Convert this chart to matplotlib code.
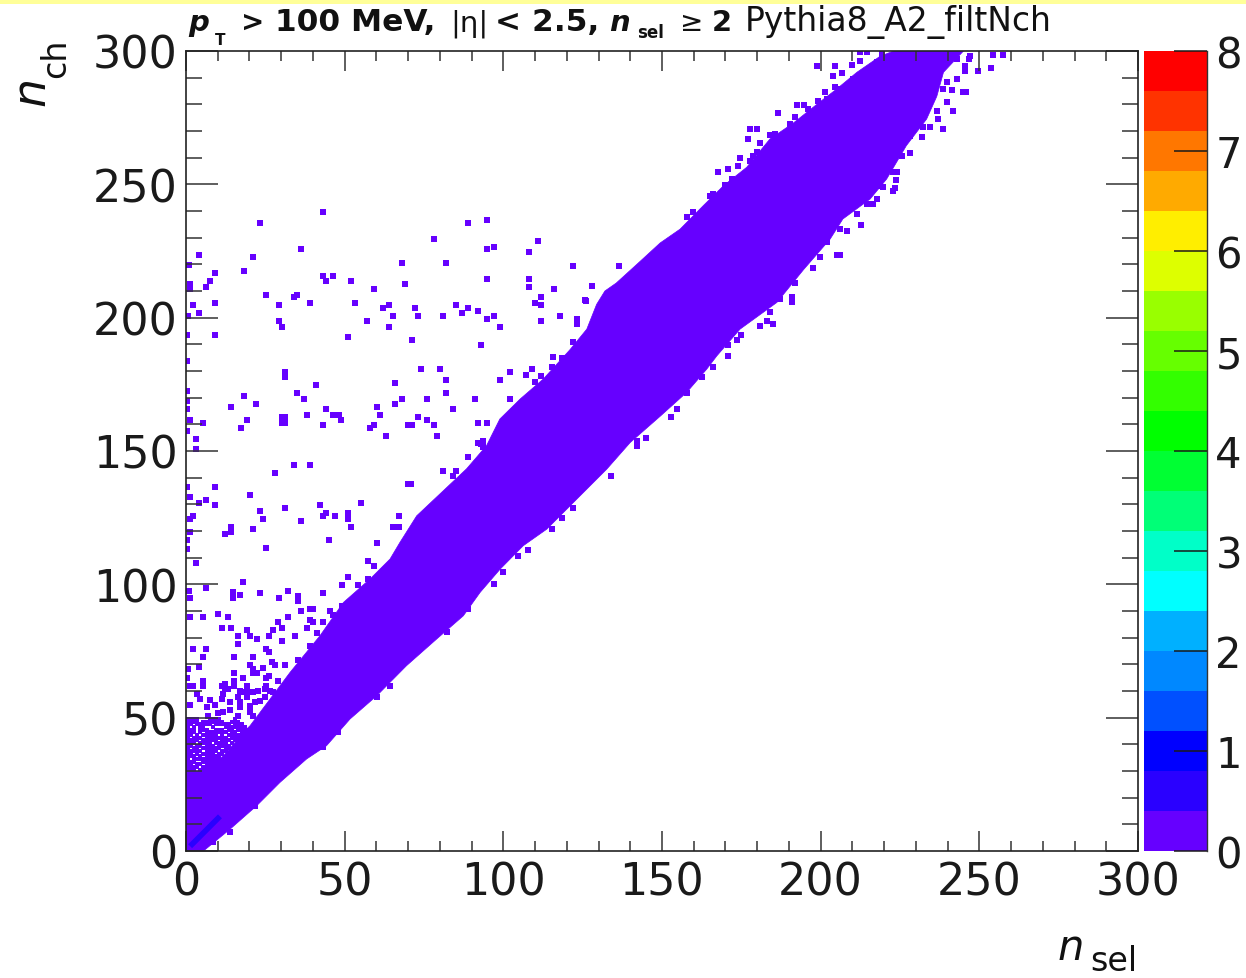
import numpy as np
import matplotlib
matplotlib.use("Agg")
import matplotlib.pyplot as plt
from matplotlib.patches import Rectangle

W, H = 1246, 979
PURPLE = "#6600ff"
FONT = "DejaVu Sans"

# band outline
upper_x = [0, 6, 11.8, 19.1, 20.2, 32.8, 42.2, 49.6, 58, 64.3, 67.4, 72.7, 81, 88.4, 94.7, 98.9, 105.3, 112.6,
           121, 126.3, 129.4, 132, 135.6, 143, 149.4, 155.7, 163, 169.4, 176.7, 184, 191.4, 198.8, 205, 211.4, 218.7, 223]
upper_y = [30, 30, 35.7, 45.7, 47, 67, 80.7, 93.2, 102, 109.5, 115.7, 125.7, 135, 143.3, 152, 162, 169.5, 177,
           188, 195.7, 205, 210, 213, 221, 228, 233.2, 242, 249.5, 256.4, 267, 273, 280, 285.7, 292, 298, 300]
lower_x = [0, 5.5, 13.9, 22.3, 29.6, 38, 44.3, 51.7, 60.1, 69.5, 79, 87.4, 92.7, 99, 106.3, 113.7, 124.2, 132.6,
           140, 149.4, 157.8, 164.1, 167.3, 174.6, 186.2, 194.6, 203, 207, 215.6, 220.8, 227, 233.4, 236.6, 238.7, 245]
lower_y = [0, 0, 8.2, 17, 25.7, 34.5, 39.5, 49.5, 58.2, 69.5, 79.5, 88.2, 97, 105.7, 114.5, 120.7, 133.2, 143.2,
           153.2, 163, 172, 180.7, 185.7, 195.7, 205.7, 218, 229.5, 237, 244.5, 252, 264.5, 274.5, 283, 292, 300]

# the slightly bluer streak close to the origin
streak_x = [1.3, 10.7]
streak_y = [1.8, 13]

# isolated bins, upper left part
stray_x = [43.1, 23.2, 89, 95, 78.2, 111, 36.1, 95, 97.1, 108, 4.2, 21.2, 68.1, 82, 1, 18.2, 9.2, 43.1, 46.2, 44.1,
           52.1, 95, 108, 7.6, 1.3, 69.1, 6.2, 108, 59.1, 116, 1.3, 25.3, 35.1, 34.1, 112, 9.2, 39.1, 53.1, 110, 2.1,
           29.2, 64.1, 85, 112, 62.1, 72.1, 89, 92, 4.2, 87, 65.1, 73, 81.1, 97.1, 118, 0.7, 95, 29.2, 57.1, 112,
           30.2, 64.1, 99, 9.2, 0.4, 51.1, 71.1, 93, 0.4, 74, 80, 31.2, 31.2, 102, 109, 107, 99, 82, 66, 41,
           0.4, 35.1, 82, 18.2, 37.1, 68.1, 76, 91, 102, 0.4, 22.2, 66, 14.2, 60.1, 0.4, 44.1, 84, 38.1, 46.2, 48.1,
           61.1, 30.2, 31.2, 30.2, 31.2, 73, 1.3, 19.2, 49, 76, 5.2, 92, 95, 43.1, 59.1, 70.1, 71.1, 78.2, 58.1, 17.2,
           0.4, 63.1, 79, 3.3, 3.3, 93, 34.1, 39.1, 28.2, 81.1, 85, 84, 70, 71, 0.4, 9.2, 20.2, 1.3, 6.2, 4.2,
           55, 9.2, 42.1, 31.2, 23.2, 44.1, 51.1, 43.1, 47, 51.1, 67.1, 2.3, 24.2, 36.1, 1.3, 14.2, 52.1, 65.1, 67.1, 21.2,
           14.2, 12.2, 1.3, 45.2, 60.1, 25.3, 0.4, 0.4, 127.9, 125.7, 136.3, 122]
stray_y = [239.5, 235.6, 235.6, 236.6, 229.6, 228.6, 225.6, 225.6, 226.6, 224.6, 223.6, 222.6, 220.6, 220.6, 219.6, 217.6, 216.6, 215.6, 215.6, 213.6,
           213.6, 214.6, 214.6, 213.6, 212.6, 212.6, 211.6, 211.6, 210.6, 210.6, 210.6, 208.6, 208.6, 207.6, 207.6, 205.6, 205.6, 205.6, 205.6, 204.6,
           204.6, 204.6, 204.6, 204.6, 203.6, 203.6, 203.6, 202.6, 201.6, 201.6, 200.6, 200.6, 200.6, 200.6, 200.6, 200.6, 199.6, 198.6, 198.6, 198.6,
           196.6, 196.6, 196.6, 193.6, 193.6, 192.6, 191.6, 189.6, 183.6, 180.6, 180.6, 179.6, 177.6, 179.6, 180.6, 178.6, 176.6, 176.6, 175.6, 174.6,
           172.6, 171.6, 171.6, 170.6, 169.6, 169.6, 169.6, 169.6, 169.6, 168.6, 167.6, 167.6, 166.6, 166.6, 165.8, 165.6, 165.6, 163.6, 163.6, 163.6,
           163.6, 162.6, 162.6, 160.6, 160.6, 162.6, 161.6, 161.6, 161.6, 161.6, 160.6, 160.6, 160.6, 159.6, 159.6, 159.6, 159.6, 159.6, 158.6, 158.6,
           157.6, 155.6, 155.6, 154.6, 150.6, 152.6, 144.6, 144.6, 141.6, 142.6, 142.6, 140.6, 137.6, 137.6, 136.6, 136.6, 133.6, 132.6, 131.6, 130.6,
           130.6, 129.6, 129.6, 128.6, 127.6, 126.6, 126.6, 125.6, 125.6, 124.6, 125.6, 125.6, 124.6, 123.6, 124.6, 121.6, 121.6, 121.6, 121.6, 120.6,
           119.8, 118.8, 119.8, 116.6, 115.6, 113.6, 116.6, 113.3, 211.8, 206.6, 219.5, 219.5]

# isolated bins, lower left part
low_x = [3.2, 18.1, 6.2, 1.1, 14.9, 17, 14.9, 23.2, 32.3, 29.3, 35.2, 35.2, 43.1, 49.1, 51.2, 54.3, 57.2, 59.3, 57.5, 1.3,
         1.3, 5.3, 10.2, 13.3, 11.3, 14.2, 19.1, 16.3, 20.2, 22.3, 16.3, 26.3, 27.3, 30.2, 29.1, 32.3, 36.3, 39.1, 40.1, 45.4,
         46.4, 49.1, 39.1, 40.1, 43.1, 38, 34.2, 30.2, 41.2, 2.1, 6.2, 5.3, 25.2, 26.3, 15.2, 21.2, 39.1, 35.2, 27, 28,
         20.2, 21.2, 24.2, 31.2, 4.2, 0.7, 15.2, 21.2, 22.3, 26.3, 25.2, 18.1, 0.4, 15.2, 29.1, 12.3, 11.3, 15.2, 19.1, 25.2,
         1.3, 5.3, 5.3, 21.2, 17.6, 12.3, 1.3, 4.4, 6.5, 7.6, 9.1, 11.2, 13.9, 11.8, 13.3, 17, 16.5, 19.6, 22.8, 17,
         17, 20.2, 21.7, 23.3, 13.9, 10.2, 11.8, 7, 3.4, 2.3, 24.9, 26.5, 27.5, 24.9, 20.2, 21.2, 16.5, 19.1]
low_y = [107.9, 100.7, 98.7, 97.6, 97, 96, 94.9, 96.9, 97.4, 94.9, 95.7, 93.7, 96.9, 99.7, 102.7, 99.7, 108.7, 106.7, 102, 94.9,
         87.9, 87.9, 88.9, 87.9, 83.7, 83.7, 82.9, 80.7, 80.7, 79.5, 77.7, 80.7, 82.9, 83.7, 85.9, 87.9, 89.9, 90.7, 90.7, 89.9,
         88.5, 91.7, 86.7, 85.9, 85.9, 83.7, 80.7, 78.7, 81.7, 75.7, 75.7, 72.7, 75.7, 74.8, 72.7, 72.7, 76.7, 71.7, 70.7, 69.7,
         69.7, 68.2, 68.7, 69.7, 68.9, 68.2, 66.7, 66.7, 66.7, 65.7, 64.7, 64.7, 64.7, 63.7, 63.7, 62.6, 61.7, 61.7, 61.7, 61.7,
         61.7, 63.7, 61.7, 59.7, 59.7, 60.7, 54.9, 57, 53.9, 56.7, 54.9, 57, 55.7, 58.9, 60.7, 60, 57.9, 59.5, 60.1, 55.7,
         53.9, 54.5, 55.7, 56.4, 53, 51.7, 52, 50.8, 58.9, 61.7, 60.7, 60, 59.5, 57.6, 52, 50.8, 50.8, 57.9]

# bins sticking out of the band, upper and lower side
edge_x = [198.8, 204.5, 204, 206.6, 209.8, 212.4, 214.5, 212.4, 219.3, 201.4, 204.5, 192.5, 194.6, 186.7, 192, 177.8, 179.9, 177.2, 180.9, 183.9,
          178.8, 174.6, 177.8, 167.8, 170.9, 174, 169.9, 165, 170.9, 170.9, 173.6, 174.8, 180.9, 183, 184.9, 190.9, 190.9, 197.7, 199.8, 205.1,
          206.1, 212.7, 208.2, 216.6, 217.7, 222.9, 223.5, 223.8, 224, 228.2, 231.9, 238.7, 234.5, 232.4, 237.1, 241.8, 239.7, 245, 245.8, 241.3,
          245.5, 249.7, 253.7, 254.4, 257.6, 246.9, 245.5, 107.9, 104.7, 100, 97.2, 89, 115.2, 118.4, 122, 133.9, 142, 142, 145, 152.8,
          154.8, 158, 162.5, 166.2, 115.8, 118.4, 122, 123.1, 123.1, 126, 112, 115.2, 110, 92, 93.7, 93.7, 89,
          159.9, 157.8, 166.2, 172, 179.9, 185.6, 190.4, 196.1, 199.3, 201.9, 206.1, 210.3, 214.5, 217.7, 222.9,
          184.1, 187.2, 191.9, 201.9, 206.1, 211.4, 214.5, 218.7, 219.8, 222.9, 225.6, 228.2, 229.2, 236.6, 238.7, 239.7, 242.9, 242.9, 247.1,
          82.1, 64.3, 60.1, 48, 43.3, 21.7, 13.9, 8.6]
edge_y = [294.5, 294.5, 290.7, 291.6, 294.7, 299.5, 299.5, 296.4, 298.9, 284.5, 286.4, 279.7, 279.7, 276.6, 275.4, 270.6, 270.6, 267, 265.5, 268.5,
          260.7, 259.7, 258.6, 254.7, 255.7, 256.7, 249.9, 245.7, 185.7, 189.7, 191.6, 193.6, 196.7, 198.6, 197.6, 207.6, 205.7, 218.6, 222.6, 223.6,
          223.6, 234.6, 232.6, 242.6, 244.5, 247.6, 248.6, 251.6, 254.7, 261.6, 267.6, 270.6, 271.6, 271.6, 274.5, 277.6, 280.7, 284.5, 284.7, 285.5,
          292.6, 292.6, 293.6, 298.6, 298.6, 297, 294.5, 112.9, 110.7, 104.7, 100, 90.7, 120.7, 125, 128.5, 140.7, 153.9, 151.9, 154.7, 162.6,
          165.7, 171.6, 177.6, 181.6, 185.1, 184.7, 190.7, 197.6, 199.5, 206.4, 178, 181.4, 175.7, 152.9, 153.6, 151.4, 147.6,
          239.5, 237.6, 246.4, 252, 262, 268.9, 272.6, 278.3, 281.4, 282, 285.8, 289.5, 292.6, 295.8, 298.3,
          202, 207, 213, 228.2, 233.2, 238.9, 242.6, 249.5, 248.9, 254.5, 260.8, 268.2, 270.8, 277.6, 285.8, 288.3, 289.5, 297, 298.3,
          82, 62, 57.6, 44.5, 38.9, 16.7, 7, 3.3]

# speckled corner above the band, one list of bins per row
speckle_rows = [30, 31, 32, 33, 34, 35, 36, 37, 38, 39, 40, 41, 42, 43, 44, 45, 46, 47, 48, 49]
speckle_bins = [
    [0, 1, 2, 4, 5, 6, 7], [0, 1, 2, 3, 5, 6, 7, 8], [0, 1, 3, 4, 6, 7, 8], [0, 1, 2, 5, 6, 7, 8, 9],
    [0, 2, 3, 4, 5, 6, 7, 8, 9, 10], [0, 1, 2, 4, 6, 7, 8, 9, 10], [0, 1, 3, 5, 6, 7, 8, 10, 11],
    [0, 1, 2, 3, 4, 6, 7, 8, 9, 11, 12], [0, 2, 3, 5, 6, 7, 8, 9, 10, 12, 13], [0, 1, 3, 4, 6, 7, 8, 10, 11, 12, 13],
    [0, 1, 2, 4, 5, 6, 7, 9, 10, 11, 12, 14], [0, 1, 2, 3, 5, 6, 7, 8, 9, 11, 12, 13, 15, 17],
    [0, 2, 3, 4, 6, 7, 8, 9, 10, 11, 12, 14, 15, 16, 17], [0, 1, 3, 5, 6, 7, 8, 9, 11, 13, 14, 15, 16, 17, 18],
    [0, 1, 2, 4, 6, 7, 8, 9, 10, 11, 12, 14, 15, 17, 18, 19], [0, 1, 2, 4, 5, 6, 9, 10, 11, 13, 14, 16, 17, 18, 19],
    [0, 2, 4, 5, 8, 12, 13, 14, 15, 16, 17, 18], [0, 1, 3, 4, 5, 6, 7, 9, 10, 11, 12, 13, 15, 16, 17],
    [0, 1, 2, 3, 5, 6, 7, 8, 9, 10, 11, 14, 15, 16], [0, 1, 2, 3, 7, 8, 9, 10, 15],
]

# palette
z_levels = [0, 0.4, 0.8, 1.2, 1.6, 2, 2.4, 2.8, 3.2, 3.6, 4, 4.4, 4.8, 5.2, 5.6, 6, 6.4, 6.8, 7.2, 7.6]
z_colors = ["#6600ff", "#2a00ff", "#0000ff", "#0050ff", "#0088ff", "#00b0ff", "#00ffff", "#00ffc8", "#00ff77", "#00ff33",
            "#00ff00", "#33ff00", "#66ff00", "#99ff00", "#ddff00", "#ffee00", "#ffaa00", "#ff7700", "#ff3300", "#ff0000"]
z_ticks = [0, 1, 2, 3, 4, 5, 6, 7, 8]
xy_ticks = [0, 50, 100, 150, 200, 250, 300]

plt.rcParams["font.family"] = [FONT]

fig = plt.figure(figsize=(W / 100, H / 100), dpi=100)
fig.add_artist(Rectangle((0, 1 - 5 / H), 1, 5 / H, transform=fig.transFigure, color="#ffff99", lw=0))

ax = fig.add_axes([186 / W, (H - 852) / H, 952 / W, 800 / H])
ax.fill(upper_x + lower_x[::-1], upper_y + lower_y[::-1], color=PURPLE, lw=0.5)
ax.plot(streak_x, streak_y, color="#2a00ff", lw=4, solid_capstyle="butt")

sx = [x + 0.5 for row, bins in zip(speckle_rows, speckle_bins) for x in bins]
sy = [row + 0.5 for row, bins in zip(speckle_rows, speckle_bins) for x in bins]
ax.scatter(sx, sy, marker="s", s=8, color=PURPLE, linewidths=0)
ax.scatter(stray_x + low_x + edge_x, stray_y + low_y + edge_y, marker="s", s=13, color=PURPLE, linewidths=0)

ax.set_xlim(0, 300)
ax.set_ylim(0, 300)
ax.set_xticks(xy_ticks)
ax.set_yticks(xy_ticks)
ax.set_xticks(np.arange(0, 301, 10), minor=True)
ax.set_yticks(np.arange(0, 301, 10), minor=True)
ax.tick_params(axis="x", which="major", direction="in", top=True, length=14.4, width=1.1, color="#333333",
               labelsize=32, pad=7, labelcolor="#1a1a1a")
ax.tick_params(axis="x", which="minor", direction="in", top=True, length=7.2, width=1.1, color="#333333")
ax.tick_params(axis="y", which="major", direction="in", right=True, length=23, width=1.1, color="#333333",
               labelsize=32, pad=6, labelcolor="#1a1a1a")
ax.tick_params(axis="y", which="minor", direction="in", right=True, length=11.5, width=1.1, color="#333333")
for spine in ax.spines.values():
    spine.set_linewidth(1.2)
    spine.set_color("#222222")

cax = fig.add_axes([1144 / W, (H - 852) / H, 63 / W, 800 / H])
cax.bar([0] * len(z_levels), [0.4] * len(z_levels), bottom=z_levels, width=1, color=z_colors, lw=0)
cax.set_xlim(-0.5, 0.5)
cax.set_ylim(0, 8)
cax.set_xticks([])
cax.set_yticks(z_ticks)
cax.yaxis.tick_right()
cax.tick_params(axis="y", direction="in", length=24, width=1.1, color="#1a1a1a", labelsize=30, pad=6,
                labelcolor="#1a1a1a")
for side in ["left", "top", "bottom"]:
    cax.spines[side].set_visible(False)
cax.spines["right"].set_linewidth(1.0)
cax.spines["right"].set_color("#333333")


def label(px, py, s, size, **kw):
    fig.text(px / W, 1 - py / H, s, fontsize=size, va="baseline", ha="left", color="#111111", **kw)


# header line, piece by piece
label(188, 31, "p", 21, fontweight="bold", fontstyle="italic")
label(215, 45, "T", 11, fontweight="bold")
label(241, 31, ">", 20, fontweight="bold")
label(275, 31, "100 MeV,", 22.5, fontweight="bold")
label(450, 31, "|η|", 21)
label(495, 31, "< 2.5,", 22.5, fontweight="bold")
label(609, 31, "n", 21, fontweight="bold", fontstyle="italic")
label(637, 38, "sel", 12, fontweight="bold")
label(680, 31, "≥", 20)
label(712, 31, "2", 21, fontweight="bold")
label(745, 31, "Pythia8_A2_filtNch", 23.7)

# axis titles
label(1058, 960, "n", 30, fontstyle="italic")
label(1090, 971, "sel", 24)
fig.text(54 / W, 1 - 106 / H, "n", fontsize=33, fontstyle="italic", rotation=90, va="bottom", ha="right", color="#111111")
fig.text(72 / W, 1 - 78 / H, "ch", fontsize=24, rotation=90, va="bottom", ha="right", color="#111111")

fig.savefig("out.png", dpi=100)
